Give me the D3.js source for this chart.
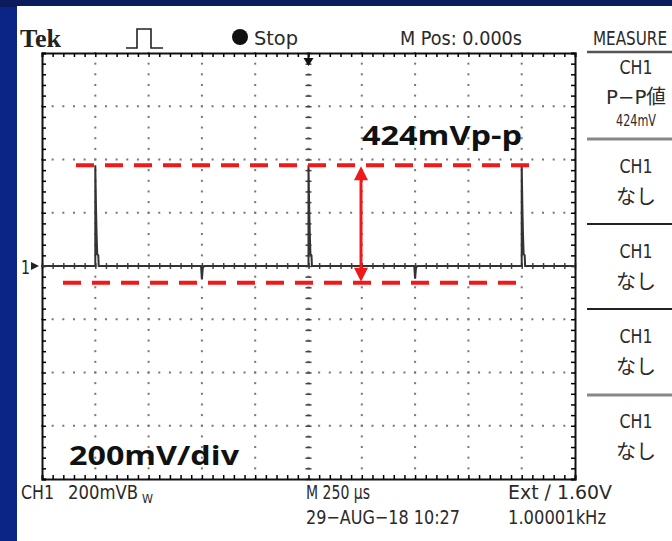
<!DOCTYPE html>
<html>
<head>
<meta charset="utf-8">
<script src="https://cdn.jsdelivr.net/npm/d3@7"></script>
<style>
  body { margin: 0; background: #0a2585; }
  svg { display: block; }
  .narrow { font-family: "DejaVu Sans", sans-serif; fill: #2a2a2a; }
  .big { font-family: "Open Sans", "Noto Sans", sans-serif; font-weight: bold; fill: #111; }
</style>
</head>
<body>
<div class="scope"></div>
<script>
// time in microseconds, voltage in mV (200 mV/div, 250 us/div)
var traceTime = [-1250, -1004, -1000, -1000, -997, -994, -991, -986, -984, -504, -500, -496, -490,
                 -4, 0, 0, 3, 6, 9, 14, 16, 496, 500, 504, 510,
                 996, 1000, 1000, 1003, 1006, 1009, 1014, 1016, 1250];
var traceMv = [0, 0, 0, 378, 230, 120, 45, 40, 0, 0, -50, -8, 0,
               0, 0, 378, 230, 120, 45, 40, 0, 0, -48, -8, 0,
               0, 0, 378, 230, 120, 45, 40, 0, 0];
var ppTop = 378;
var ppBottom = -63;
var measureLabels = ["CH1", "P\u2212P値", "424mV"];
var measureSlots = ["なし", "なし", "なし", "なし"];

var width = 672, height = 541;
var svg = d3.select(".scope").append("svg")
    .attr("width", width)
    .attr("height", height);

svg.append("rect").attr("width", width).attr("height", 7).attr("fill", "#0b1c5c");
svg.append("rect").attr("x", 17).attr("y", 6).attr("width", width - 17).attr("height", height - 6).attr("fill", "#fff");

var x = d3.scaleLinear().domain([-1250, 1250]).range([42, 575]);
var y = d3.scaleLinear().domain([800, -800]).range([53, 479]);

var g = svg.append("g");

// dotted grid, 5 dots per division
var divT = d3.range(-1000, 1001, 250);
var divV = d3.range(-600, 601, 200);
var minorT = d3.range(-1250, 1251, 50);
var minorV = d3.range(-800, 801, 40);

divT.forEach(function (t) {
    g.selectAll(null).data(minorV).enter().append("rect")
        .attr("x", x(t) - 1).attr("y", function (d) { return y(d) - 1; })
        .attr("width", 2).attr("height", 2).attr("fill", "#777");
});
divV.forEach(function (v) {
    g.selectAll(null).data(minorT).enter().append("rect")
        .attr("x", function (d) { return x(d) - 1; }).attr("y", y(v) - 1)
        .attr("width", 2).attr("height", 2).attr("fill", "#777");
});

// center cross with minor ticks
g.append("g").attr("transform", "translate(0," + y(0) + ")")
    .call(d3.axisBottom(x).tickValues(minorT).tickSize(3).tickFormat(""))
    .call(function (a) { a.select(".domain").remove(); a.selectAll("line").attr("y1", -3).attr("stroke", "#444"); });
g.append("g").attr("transform", "translate(" + x(0) + ",0)")
    .call(d3.axisRight(y).tickValues(minorV).tickSize(3).tickFormat(""))
    .call(function (a) { a.select(".domain").remove(); a.selectAll("line").attr("x1", -3).attr("stroke", "#444"); });

// frame with inward ticks
g.append("g").attr("transform", "translate(0," + y(800) + ")")
    .call(d3.axisBottom(x).tickValues(minorT).tickSize(4).tickFormat(""));
g.append("g").attr("transform", "translate(0," + y(-800) + ")")
    .call(d3.axisTop(x).tickValues(minorT).tickSize(4).tickFormat(""));
g.append("g").attr("transform", "translate(" + x(-1250) + ",0)")
    .call(d3.axisRight(y).tickValues(minorV).tickSize(4).tickFormat(""));
g.append("g").attr("transform", "translate(" + x(1250) + ",0)")
    .call(d3.axisLeft(y).tickValues(minorV).tickSize(4).tickFormat(""));
g.selectAll(".domain").attr("stroke", "#111").attr("stroke-width", 2);
g.selectAll(".tick line").attr("stroke-width", 1.5);

// trace
var line = d3.line()
    .x(function (d) { return x(d[0]); })
    .y(function (d) { return y(d[1]); });
g.append("path")
    .datum(d3.zip(traceTime, traceMv))
    .attr("d", line)
    .attr("fill", "none")
    .attr("stroke", "#333")
    .attr("stroke-width", 2);

// helper for the scope's tall narrow lettering
function label(tx, ty, s, len, size) {
    var t = svg.append("text").attr("class", "narrow").attr("x", tx).attr("y", ty)
        .attr("font-size", size || 20).text(s);
    if (len) t.attr("textLength", len).attr("lengthAdjust", "spacingAndGlyphs");
    return t;
}

// channel marker and trigger marker
label(21, y(0) + 8, "1", 9, 20).style("fill", "#222");
svg.append("path").attr("d", "M31," + (y(0) - 4) + "L39," + y(0) + "L31," + (y(0) + 4) + "Z").attr("fill", "#222");
svg.append("path")
    .attr("d", "M" + (x(0) - 5) + "," + (y(800) + 5) + "L" + (x(0) + 5) + "," + (y(800) + 5) + "L" + x(0) + "," + (y(800) + 13) + "Z")
    .attr("fill", "#111");
svg.append("line").attr("x1", x(0)).attr("x2", x(0)).attr("y1", y(800)).attr("y2", y(800) + 6)
    .attr("stroke", "#111").attr("stroke-width", 2);

// red markers
svg.append("line").attr("x1", 76).attr("x2", 530).attr("y1", y(ppTop)).attr("y2", y(ppTop))
    .attr("stroke", "#f01818").attr("stroke-width", 4).attr("stroke-dasharray", "18,11");
svg.append("line").attr("x1", 63).attr("x2", 518).attr("y1", y(ppBottom)).attr("y2", y(ppBottom))
    .attr("stroke", "#f01818").attr("stroke-width", 4).attr("stroke-dasharray", "18,11");
var ax = 361;
svg.append("line").attr("x1", ax).attr("x2", ax).attr("y1", y(ppTop) + 10).attr("y2", y(ppBottom) - 10)
    .attr("stroke", "#f01818").attr("stroke-width", 3);
svg.append("path").attr("d", "M" + ax + "," + (y(ppTop) + 1) + "l-7,14h14z").attr("fill", "#f01818");
svg.append("path").attr("d", "M" + ax + "," + (y(ppBottom) - 1) + "l-7,-14h14z").attr("fill", "#f01818");

svg.append("text").attr("class", "big").attr("x", 362).attr("y", 145)
    .attr("font-size", 27).attr("textLength", 160).attr("lengthAdjust", "spacingAndGlyphs").text("424mVp-p");
svg.append("text").attr("class", "big").attr("x", 69).attr("y", 465)
    .attr("font-size", 27).attr("textLength", 170).attr("lengthAdjust", "spacingAndGlyphs").text("200mV/div");

// header
svg.append("text").attr("x", 20).attr("y", 47)
    .style("font-family", "'Liberation Serif', serif").style("font-weight", "bold")
    .attr("font-size", 26).attr("fill", "#222").text("Tek");
svg.append("path").attr("d", "M126,48H137V29H151V48H163").attr("fill", "none")
    .attr("stroke", "#222").attr("stroke-width", 1.6);
svg.append("circle").attr("cx", 240).attr("cy", 37).attr("r", 8).attr("fill", "#111");
label(254, 45, "Stop", 44);
label(400, 45, "M Pos: 0.000s", 122);
label(593, 45, "MEASURE", 74);

// measure panel
var px = 636;
var seps = [{ y: 52, c: "#555", w: 2.5 }, { y: 139, c: "#888", w: 3 }, { y: 224, c: "#222", w: 2 },
            { y: 309, c: "#222", w: 2 }, { y: 395, c: "#888", w: 3 }];
svg.selectAll(".sep").data(seps).enter().append("line")
    .attr("class", "sep")
    .attr("x1", 587).attr("x2", width)
    .attr("y1", function (d) { return d.y; }).attr("y2", function (d) { return d.y; })
    .attr("stroke", function (d) { return d.c; }).attr("stroke-width", function (d) { return d.w; });

label(px, 74, measureLabels[0], 33).attr("text-anchor", "middle");
label(px, 104, measureLabels[1], 60).attr("text-anchor", "middle")
    .style("font-family", "'DejaVu Sans', 'Noto Sans CJK JP', sans-serif");
label(px, 126, measureLabels[2], 40, 15).attr("text-anchor", "middle");

var slotY = [173, 258, 343, 428];
measureSlots.forEach(function (s, i) {
    label(px, slotY[i], "CH1", 33).attr("text-anchor", "middle");
    svg.append("text").attr("x", px).attr("y", slotY[i] + 31).attr("text-anchor", "middle")
        .style("font-family", "'Noto Sans CJK JP', sans-serif").attr("font-size", 20).attr("fill", "#2a2a2a")
        .text(s);
});

// footer
label(21, 499, "CH1", 33);
label(68, 499, "200mVB", 70);
label(142, 503, "W", 11, 13);
label(306, 499, "M 250 \u00b5s", 64);
label(306, 524, "29\u2212AUG\u221218 10:27", 154);
label(508, 499, "Ext \u2215 1.60V", 104);
label(508, 524, "1.00001kHz", 98);
</script>
</body>
</html>
